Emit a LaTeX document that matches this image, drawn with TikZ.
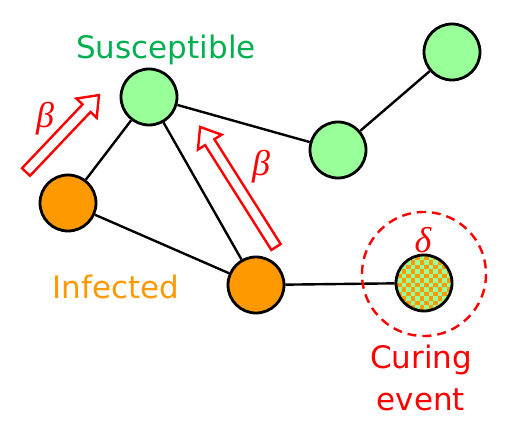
\documentclass[tikz,border=0pt]{standalone}
\usepackage{fontspec}
\setmainfont{DejaVu Sans}
\newfontfamily\greekfont{Liberation Serif}
\usetikzlibrary{calc}
\definecolor{suscfill}{HTML}{99FF99}
\definecolor{infcfill}{HTML}{FF9900}
\definecolor{susctext}{HTML}{00B050}

\begin{document}
\begin{tikzpicture}[x=1pt,y=-1pt,
  every node/.style={font=\fontsize{31}{42}\selectfont},
  rate/.style={red,font=\fontsize{36}{42}\selectfont\greekfont\itshape},
  site/.style={circle,draw=black,line width=2.8pt,minimum size=56pt,inner sep=0pt},
  susc/.style={site,fill=suscfill},
  infc/.style={site,fill=infcfill},
  link/.style={line width=2.4pt},
  pics/infarrow/.style={code={
    \draw[red,line width=2.4pt,line join=miter]
      (0,-5.5) -- (#1-18,-5.5) -- (#1-18,-14) -- (#1,0) -- (#1-18,14)
      -- (#1-18,5.5) -- (0,5.5) -- cycle;}}]
\useasboundingbox (0,0) rectangle (514,430);
% sites
\node[susc] (s1) at (149,97) {};
\node[susc] (s2) at (338,150) {};
\node[susc] (s3) at (452,52) {};
\node[infc] (i1) at (68,203) {};
\node[infc] (i2) at (256,285) {};
\node[site,fill=suscfill,path picture={
  \foreach \i in {-7,...,6}{\foreach \j in {-7,...,6}{
    \pgfmathtruncatemacro\chk{mod(\i+\j+14,2)}
    \ifnum\chk=0
      \fill[infcfill] ([shift={(\i*4.5,\j*4.5)}]path picture bounding box.center) rectangle +(4.5,4.5);
    \fi}}}] (cu) at (424,283) {};
% links
\draw[link] (s1) -- (s2);
\draw[link] (s2) -- (s3);
\draw[link] (s1) -- (i1);
\draw[link] (s1) -- (i2);
\draw[link] (i1) -- (i2);
\draw[link] (i2) -- (cu);
% curing event
\draw[red,line width=2.4pt,dash pattern=on 9pt off 6pt] (424,274) circle[radius=62];
\node[rate] (delta) at (423,240) {δ};
% infection arrows
\pic[rotate=46.5] at (26,172) {infarrow=106};
\pic[rotate=122.3] at (276,247) {infarrow=142};
\node[rate] (beta1) at (45,119) {β};
\node[rate] (beta2) at (261,167) {β};
% labels
\node[susctext,anchor=base] (susclabel) at (166,59) {Susceptible};
\node[infcfill,anchor=base] (infclabel) at (116,299) {Infected};
\node[red,align=center,inner sep=0pt] (curelabel) at (421,378) {Curing\\event};
\end{tikzpicture}
\end{document}
